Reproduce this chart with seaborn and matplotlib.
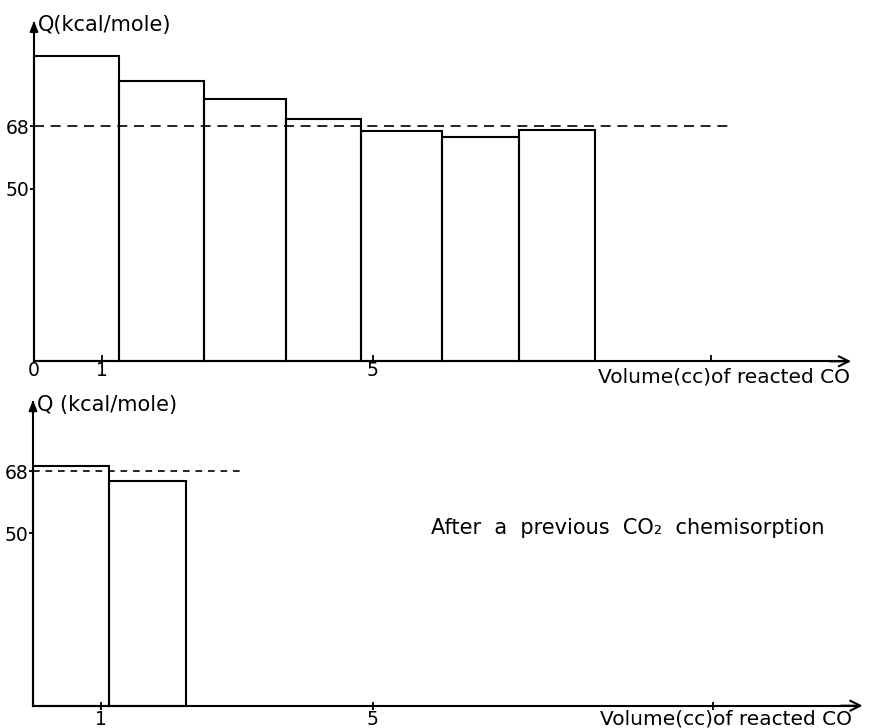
import numpy as np
import pandas as pd
import matplotlib
matplotlib.use("Agg")
import matplotlib.pyplot as plt
import seaborn as sns

# ---------------- data ----------------
# top panel: volume (cc) bin edges of reacted CO and differential heat Q (kcal/mole)
top_edges = [0.0, 1.26, 2.51, 3.72, 4.83, 6.03, 7.16, 8.29]
top_Q = [88.3, 81.1, 75.9, 70.2, 66.7, 64.8, 66.9]
# bottom panel: after a previous CO2 chemisorption
bot_edges = [0.0, 1.12, 2.25]
bot_Q = [69.5, 65.1]

ref_Q = 68
ytick_vals = [50, 68]
ytick_labels = ["50", "68"]
top_xticks = [0, 1, 5, 10]
top_xlabels = ["0", "1", "5", ""]
bot_xticks = [1, 5, 10]
bot_xlabels = ["1", "5", ""]

ylabel_top = "Q(kcal/mole)"
ylabel_bot = "Q (kcal/mole)"
xlabel = "Volume(cc)of reacted CO"
note = "After  a  previous  CO\u2082  chemisorption"

# ---------------- style ----------------
sns.set_theme(style="white")
plt.rcParams["font.family"] = ["DejaVu Sans"]
plt.rcParams["text.color"] = "black"
plt.rcParams["xtick.color"] = "black"
plt.rcParams["ytick.color"] = "black"
W, H = 873, 728
fig = plt.figure(figsize=(W / 100, H / 100), dpi=100)
LW = 1.5


def make_axes(px_top, px_bot, x0_px, x_unit, base_px, y_unit):
    ax = fig.add_axes([0, 1 - px_bot / H, 1, (px_bot - px_top) / H])
    ax.set_xlim(-x0_px / x_unit, (W - x0_px) / x_unit)
    ax.set_ylim(-(px_bot - base_px) / y_unit, (base_px - px_top) / y_unit)
    ax.patch.set_alpha(0)
    return ax


def style_axes(ax, ytop, xend, xticks, xlabels, xtickdir, xticklen, dash, dash_end,
               ylab, xlab_pos, ylab_pos):
    for s in ["top", "right"]:
        ax.spines[s].set_visible(False)
    ax.spines["left"].set_position(("data", 0))
    ax.spines["bottom"].set_position(("data", 0))
    ax.spines["left"].set_bounds(0, ytop - 1.5)
    ax.spines["bottom"].set_bounds(0, xend - 0.1)
    for s in ["left", "bottom"]:
        ax.spines[s].set_color("black")
        ax.spines[s].set_linewidth(LW)
    ax.set_xticks(xticks)
    ax.set_xticklabels(xlabels, fontsize=13.5)
    ax.set_yticks(ytick_vals)
    ax.set_yticklabels(ytick_labels, fontsize=13.5)
    ax.tick_params(axis="x", bottom=True, direction=xtickdir, length=xticklen, width=1.3,
                   color="black", pad=0)
    ax.tick_params(axis="y", left=True, direction="out", length=3, width=1.3,
                   color="black", pad=0.5)
    ax.set_xlabel("")
    ax.set_ylabel("")
    # arrows
    ax.annotate("", xy=(0, ytop), xytext=(0, ytop - 4),
                arrowprops=dict(arrowstyle="-|>,head_length=0.5,head_width=0.2", lw=LW, color="black"),
                annotation_clip=False)
    ax.annotate("", xy=(xend, 0), xytext=(xend - 0.4, 0),
                arrowprops=dict(arrowstyle="->,head_length=0.6,head_width=0.3", lw=LW, color="black"),
                annotation_clip=False)
    # reference line at 68
    ax.plot([0, dash_end], [ref_Q, ref_Q], color="black", lw=1.2, dashes=dash, clip_on=False)
    ax.text(ylab_pos[0], ylab_pos[1], ylab, fontsize=15, ha="left", va="center", clip_on=False)
    ax.text(xlab_pos[0], xlab_pos[1], xlabel, fontsize=14.5, ha="left", va="center", clip_on=False)


# ---------- top panel ----------
ax1 = make_axes(0, 382, 34, 67.7, 361.3, 3.456)
mids1 = [(a + b) / 2 for a, b in zip(top_edges[:-1], top_edges[1:])]
sns.histplot(x=mids1, weights=top_Q, bins=top_edges, fill=False, color="black",
             linewidth=LW, ax=ax1)
style_axes(ax1, 99.3, 12.11, top_xticks, top_xlabels, "in", 4, (6, 4), 10.28,
           ylabel_top, (8.33, -4.4), (0.06, 97.3))

# ---------- bottom panel ----------
ax2 = make_axes(386, 728, 33, 68.0, 705.7, 3.45)
mids2 = [(a + b) / 2 for a, b in zip(bot_edges[:-1], bot_edges[1:])]
sns.histplot(x=mids2, weights=bot_Q, bins=bot_edges, fill=False, color="black",
             linewidth=LW, ax=ax2)
style_axes(ax2, 89.4, 12.24, bot_xticks, bot_xlabels, "inout", 6, (4, 3.5), 3.09,
           ylabel_bot, (8.34, -3.9), (0.06, 87.2))
ax2.text(5.85, 51.5, note, fontsize=15, ha="left", va="center")

fig.savefig("out.png", dpi=100, facecolor="white")
